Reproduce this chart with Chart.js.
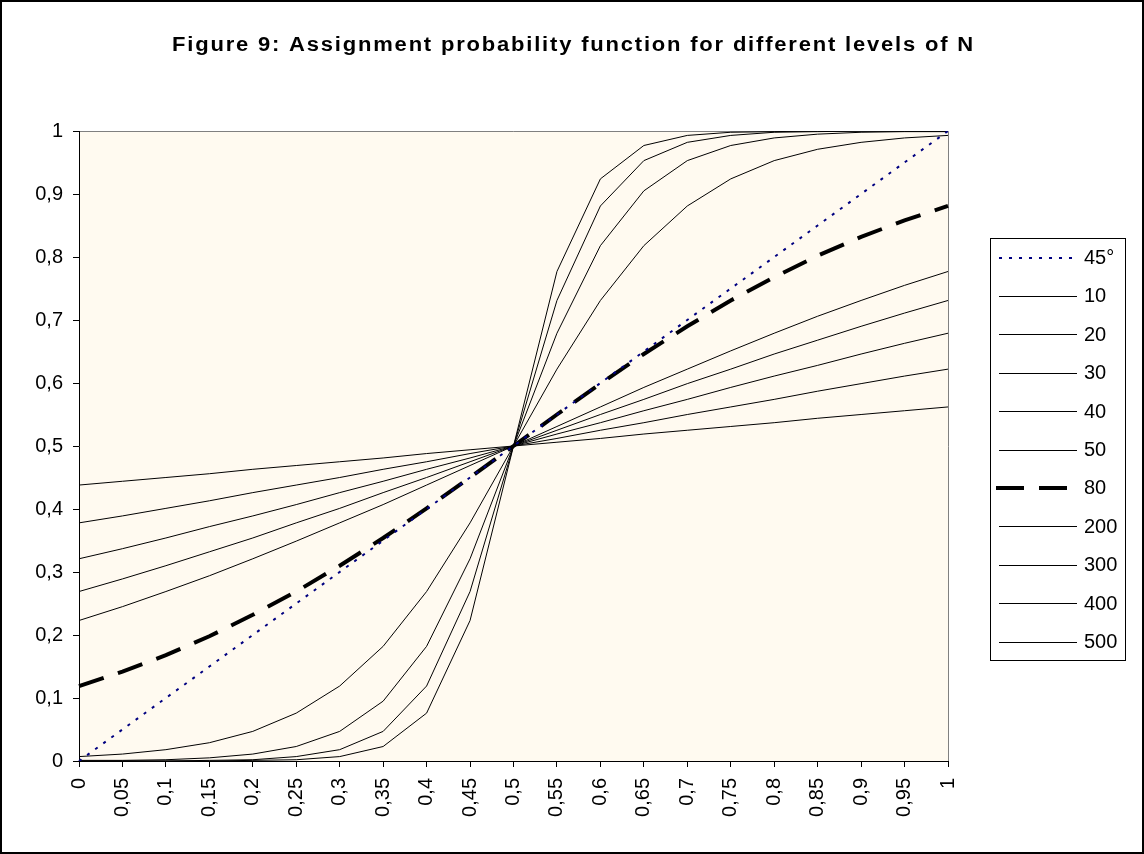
<!DOCTYPE html>
<html><head><meta charset="utf-8">
<script src="https://cdn.jsdelivr.net/npm/chart.js@4"></script>
<style>html,body{margin:0;padding:0;background:#fff}</style>
</head><body>
<canvas id="c" width="1144" height="854" style="display:block"></canvas>
<script>
const titleText = 'Figure 9: Assignment probability function for different levels of N';
const xLabels = ['0','0,05','0,1','0,15','0,2','0,25','0,3','0,35','0,4','0,45','0,5','0,55','0,6','0,65','0,7','0,75','0,8','0,85','0,9','0,95','1'];
const yTickLabels = ['0','0,1','0,2','0,3','0,4','0,5','0,6','0,7','0,8','0,9','1'];
const seriesNames = ['45°','10','20','30','40','50','80','200','300','400','500'];

const s45  = [0,0.05,0.1,0.15,0.2,0.25,0.3,0.35,0.4,0.45,0.5,0.55,0.6,0.65,0.7,0.75,0.8,0.85,0.9,0.95,1];
const n10  = [0.438,0.444,0.450,0.456,0.463,0.469,0.475,0.481,0.488,0.494,0.5,0.506,0.512,0.519,0.525,0.531,0.537,0.544,0.550,0.556,0.562];
const n20  = [0.378,0.389,0.401,0.413,0.426,0.438,0.450,0.463,0.475,0.488,0.5,0.512,0.525,0.537,0.550,0.562,0.574,0.587,0.599,0.611,0.622];
const n30  = [0.321,0.337,0.354,0.372,0.389,0.407,0.426,0.444,0.463,0.481,0.5,0.519,0.537,0.556,0.574,0.593,0.611,0.628,0.646,0.663,0.679];
const n40  = [0.269,0.289,0.310,0.332,0.354,0.378,0.401,0.426,0.450,0.475,0.5,0.525,0.550,0.574,0.599,0.622,0.646,0.668,0.690,0.711,0.731];
const n50  = [0.223,0.245,0.269,0.294,0.321,0.349,0.378,0.407,0.438,0.469,0.5,0.531,0.562,0.593,0.622,0.651,0.679,0.706,0.731,0.755,0.777];
const n80  = [0.119,0.142,0.168,0.198,0.232,0.269,0.310,0.354,0.401,0.450,0.5,0.550,0.599,0.646,0.690,0.731,0.768,0.802,0.832,0.858,0.881];
const n200 = [0.007,0.011,0.018,0.029,0.047,0.076,0.119,0.182,0.269,0.378,0.5,0.622,0.731,0.818,0.881,0.924,0.953,0.971,0.982,0.989,0.993];
const n300 = [0.001,0.001,0.002,0.005,0.011,0.023,0.047,0.095,0.182,0.321,0.5,0.679,0.818,0.905,0.953,0.977,0.989,0.995,0.998,0.999,0.999];
const n400 = [0.000,0.000,0.000,0.001,0.002,0.007,0.018,0.047,0.119,0.269,0.5,0.731,0.881,0.953,0.982,0.993,0.998,0.999,1.000,1.000,1.000];
const n500 = [0.000,0.000,0.000,0.000,0.001,0.002,0.007,0.023,0.076,0.223,0.5,0.777,0.924,0.977,0.993,0.998,0.999,1.000,1.000,1.000,1.000];

const seriesData = [s45,n10,n20,n30,n40,n50,n80,n200,n300,n400,n500];

const FONT = '"Liberation Sans", Arial, sans-serif';

function styleFor(i){
  if (i === 0) return {borderColor:'#000080', borderWidth:2, borderDash:[3,7]};
  if (i === 6) return {borderColor:'#000000', borderWidth:4, borderDash:[26,15]};
  return {borderColor:'#000000', borderWidth:1, borderDash:[]};
}

const datasets = seriesNames.map((name,i)=>Object.assign({
  label:name, data:seriesData[i], pointRadius:0, tension:0, fill:false
}, styleFor(i)));

const framePlugin = {
  id:'frame',
  beforeDraw(chart){
    const ctx = chart.ctx, a = chart.chartArea;
    ctx.save();
    ctx.fillStyle = '#ffffff';
    ctx.fillRect(0,0,chart.width,chart.height);
    ctx.fillStyle = '#fffaf0';
    ctx.fillRect(a.left,a.top,a.right-a.left,a.bottom-a.top);
    ctx.strokeStyle = '#808080'; ctx.lineWidth = 1;
    ctx.beginPath();
    ctx.moveTo(a.left, a.top+0.5); ctx.lineTo(a.right+0.5, a.top+0.5); ctx.lineTo(a.right+0.5, a.bottom);
    ctx.stroke();
    ctx.restore();
  },
  afterDraw(chart){
    const ctx = chart.ctx;
    ctx.save();
    ctx.strokeStyle = '#000'; ctx.lineWidth = 2;
    ctx.strokeRect(1,1,chart.width-2,chart.height-2);
    ctx.fillStyle = '#000';
    ctx.font = 'bold 20px ' + FONT;
    ctx.textAlign = 'left'; ctx.textBaseline = 'middle';
    const sx = 1.1;
    const w = ctx.measureText(titleText).width * sx;
    const target = 801;
    if ('letterSpacing' in ctx) ctx.letterSpacing = Math.max(0,(target - w)/(titleText.length-1)/sx).toFixed(2)+'px';
    ctx.translate(172, 45);
    ctx.scale(sx, 1);
    ctx.fillText(titleText, 0, 0);
    ctx.restore();
    ctx.save();
    ctx.strokeStyle = '#000'; ctx.lineWidth = 1;
    ctx.strokeRect(990.5,238.5,135,422);
    ctx.font = '20px ' + FONT;
    ctx.textAlign = 'left'; ctx.textBaseline = 'middle';
    chart.data.datasets.forEach((ds,i)=>{
      const y = 257.5 + i*38.4;
      ctx.save();
      ctx.strokeStyle = ds.borderColor; ctx.lineWidth = ds.borderWidth;
      ctx.setLineDash(i===6 ? [28,15] : (ds.borderDash || []));
      ctx.beginPath();
      const x0 = (i===6) ? 996 : 999;
      const yy = Math.round(y) + (ds.borderWidth%2?0.5:0);
      ctx.moveTo(x0, yy);
      ctx.lineTo(1077, yy);
      ctx.stroke();
      ctx.restore();
      ctx.fillStyle = '#000';
      ctx.fillText(ds.label, 1084, y+1);
    });
    ctx.restore();
  }
};

new Chart(document.getElementById('c'), {
  type:'line',
  data:{labels:xLabels, datasets},
  options:{
    responsive:false, animation:false, devicePixelRatio:1,
    layout:{padding:{left:0, top:131, right:196, bottom:0}},
    plugins:{legend:{display:false}, title:{display:false}, tooltip:{enabled:false}},
    scales:{
      x:{
        type:'category', offset:false,
        grid:{display:true, drawOnChartArea:false, drawTicks:true, tickLength:6, color:'#000', lineWidth:1},
        border:{display:true, color:'#000', width:1},
        ticks:{autoSkip:false, maxRotation:90, minRotation:90, padding:11, color:'#000', font:{family:FONT, size:20}},
        afterFit(s){ s.height = 93; }
      },
      y:{
        min:0, max:1,
        grid:{display:true, drawOnChartArea:false, drawTicks:true, tickLength:6, color:'#000', lineWidth:1},
        border:{display:true, color:'#000', width:1},
        ticks:{stepSize:0.1, padding:10, color:'#000', font:{family:FONT, size:20},
          callback:(v,i)=>yTickLabels[i]},
        afterFit(s){ s.width = 79; }
      }
    }
  },
  plugins:[framePlugin]
});
</script>
</body></html>
